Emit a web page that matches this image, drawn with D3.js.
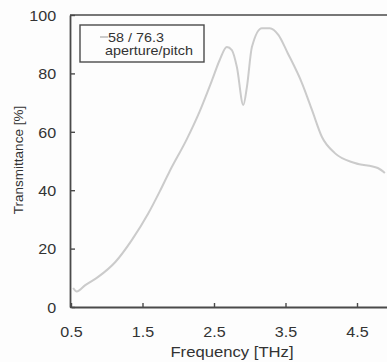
<!DOCTYPE html>
<html>
<head>
<meta charset="utf-8">
<script src="https://cdn.jsdelivr.net/npm/d3@7"></script>
<style>
  html, body { margin: 0; padding: 0; background: #fdfdfd; }
  svg { display: block; font-family: "Liberation Sans", Arial, sans-serif; }
</style>
</head>
<body>
<svg id="canvas" width="387" height="362"></svg>
<script>
/********** Data **********/
var freq  = [0.53, 0.58, 0.70, 0.88, 1.12, 1.35, 1.58, 1.74, 1.88, 2.12, 2.30, 2.47, 2.58, 2.68, 2.75, 2.82, 2.91, 2.96, 3.03, 3.17, 3.28, 3.40, 3.53, 3.73, 3.87, 4.01, 4.19, 4.47, 4.79, 4.89];
var trans = [6.5, 5.3, 7.5, 10.3, 15.4, 22.9, 32.0, 39.5, 46.5, 57.5, 67.0, 77.5, 84.6, 89.0, 88.0, 82.2, 69.2, 75.3, 89.0, 95.5, 95.5, 93.2, 87.0, 76.7, 67.5, 58.2, 52.7, 49.3, 47.6, 45.9];
var xTicks = [0.5, 1.5, 2.5, 3.5, 4.5];
var yTicks = [0, 20, 40, 60, 80, 100];
var legendLines = ["58 / 76.3", "aperture/pitch"];

/********** Setup **********/
var svg = d3.select("#canvas");
var stretch = 1.15; // scanned figure is a bit wider than tall
var axisColor = "#4a4a4a";
var textColor = "#333";

var x = d3.scaleLinear().domain([0.5, 5.5]).range([71, 428.5]);
var y = d3.scaleLinear().domain([0, 100]).range([307, 15]);

/********** Frame (top edge, runs off the right side) **********/
svg.append("line")
    .attr("x1", x(0.5) - 1).attr("x2", x(5.5))
    .attr("y1", y(100)).attr("y2", y(100))
    .attr("stroke", axisColor).attr("stroke-width", 1.6);

/********** Axes **********/
var xAxis = svg.append("g")
    .attr("transform", "translate(0," + y(0) + ")")
    .call(d3.axisBottom(x).tickValues(xTicks).tickSizeInner(-4).tickSizeOuter(0).tickPadding(20)
        .tickFormat(d3.format(".1f")));

var yAxis = svg.append("g")
    .attr("transform", "translate(" + (x(0.5) - 1) + ",0)")
    .call(d3.axisLeft(y).tickValues(yTicks).tickSizeInner(-5).tickSizeOuter(0).tickPadding(12));

[xAxis, yAxis].forEach(function(g) {
    g.select(".domain").attr("stroke", axisColor).attr("stroke-width", 1.8);
    g.selectAll(".tick line").attr("stroke", axisColor).attr("stroke-width", 1.4);
    g.selectAll(".tick text")
        .attr("fill", textColor)
        .style("font-size", "14px")
        .attr("transform", "scale(" + stretch + ",1)");
});
yAxis.selectAll(".tick text").attr("dy", "0.38em");

/********** Axis titles **********/
svg.append("text")
    .attr("transform", "translate(232,357) scale(" + stretch + ",1)")
    .attr("text-anchor", "middle")
    .attr("fill", textColor)
    .style("font-size", "14.5px")
    .text("Frequency [THz]");

svg.append("text")
    .attr("transform", "translate(23,160) rotate(-90)")
    .attr("text-anchor", "middle")
    .attr("fill", textColor)
    .style("font-size", "13.5px")
    .text("Transmittance [%]");

/********** Curve **********/
var pts = freq.map(function(f, i) { return [f, trans[i]]; });
var line = d3.line()
    .x(function(d) { return x(d[0]); })
    .y(function(d) { return y(d[1]); })
    .curve(d3.curveMonotoneX);

svg.append("path")
    .datum(pts)
    .attr("d", line)
    .attr("fill", "none")
    .attr("stroke", "#cbcbcb")
    .attr("stroke-width", 2);

/********** Legend **********/
var legend = svg.append("g").attr("transform", "translate(80,25)");
legend.append("rect")
    .attr("width", 124).attr("height", 37)
    .attr("fill", "#fdfdfd")
    .attr("stroke", axisColor).attr("stroke-width", 1.4);
legend.append("line")
    .attr("x1", 20).attr("x2", 28).attr("y1", 12).attr("y2", 12)
    .attr("stroke", "#b8b8b8").attr("stroke-width", 1.5);
legend.selectAll("text.lg")
    .data(legendLines)
    .enter()
    .append("text")
    .attr("class", "lg")
    .attr("transform", function(d, i) {
        return "translate(" + (i === 0 ? 28 : 25) + "," + (17 + i * 13) + ") scale(" + stretch + ",1)";
    })
    .attr("fill", textColor)
    .style("font-size", "12.5px")
    .text(function(d) { return d; });
</script>
</body>
</html>
